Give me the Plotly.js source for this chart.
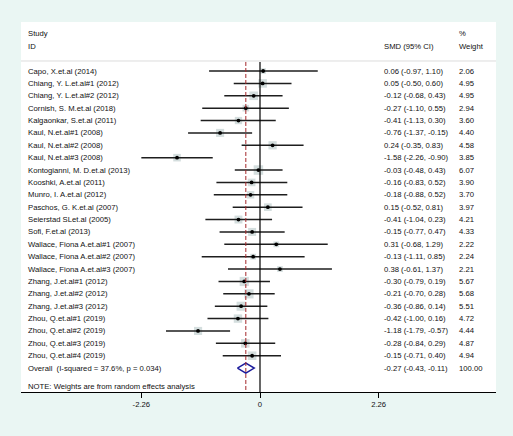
<!DOCTYPE html>
<html>
<head>
<meta charset="utf-8">
<script src="https://cdn.plot.ly/plotly-3.0.1.min.js"></script>
<style>html,body{margin:0;padding:0;background:#eaf6f3;}#chart{width:513px;height:436px;}</style>
</head>
<body>
<div id="chart"></div>
<script>
const studies = [
  "Capo, X.et.al (2014)",
  "Chiang, Y. L.et.al#1 (2012)",
  "Chiang, Y. L.et.al#2 (2012)",
  "Cornish, S. M.et.al (2018)",
  "Kalgaonkar, S.et.al (2011)",
  "Kaul, N.et.al#1 (2008)",
  "Kaul, N.et.al#2 (2008)",
  "Kaul, N.et.al#3 (2008)",
  "Kontogianni, M. D.et.al (2013)",
  "Kooshki, A.et.al (2011)",
  "Munro, I. A.et.al (2012)",
  "Paschos, G. K.et.al (2007)",
  "Seierstad SLet.al (2005)",
  "Sofi, F.et.al (2013)",
  "Wallace, Fiona A.et.al#1 (2007)",
  "Wallace, Fiona A.et.al#2 (2007)",
  "Wallace, Fiona A.et.al#3 (2007)",
  "Zhang, J.et.al#1 (2012)",
  "Zhang, J.et.al#2 (2012)",
  "Zhang, J.et.al#3 (2012)",
  "Zhou, Q.et.al#1 (2019)",
  "Zhou, Q.et.al#2 (2019)",
  "Zhou, Q.et.al#3 (2019)",
  "Zhou, Q.et.al#4 (2019)"
];
const smd   = [0.06, 0.05, -0.12, -0.27, -0.41, -0.76, 0.24, -1.58, -0.03, -0.16, -0.18, 0.15, -0.41, -0.15, 0.31, -0.13, 0.38, -0.30, -0.21, -0.36, -0.42, -1.18, -0.28, -0.15];
const lower = [-0.97, -0.50, -0.68, -1.10, -1.13, -1.37, -0.35, -2.26, -0.48, -0.83, -0.88, -0.52, -1.04, -0.77, -0.68, -1.11, -0.61, -0.79, -0.70, -0.86, -1.00, -1.79, -0.84, -0.71];
const upper = [1.10, 0.60, 0.43, 0.55, 0.30, -0.15, 0.83, -0.90, 0.43, 0.52, 0.52, 0.81, 0.23, 0.47, 1.29, 0.85, 1.37, 0.19, 0.28, 0.14, 0.16, -0.57, 0.29, 0.40];
const weights = [2.06, 4.95, 4.95, 2.94, 3.60, 4.40, 4.58, 3.85, 6.07, 3.90, 3.70, 3.97, 4.21, 4.33, 2.22, 2.24, 2.21, 5.67, 5.68, 5.51, 4.72, 4.44, 4.87, 4.94];
const overallLabel = "Overall  (I-squared = 37.6%, p = 0.034)";
const overallSmd = -0.27, overallLower = -0.43, overallUpper = -0.11, overallWeight = 100.00;
const tickVals = [-2.26, 0, 2.26];
const tickText = ["-2.26", "0", "2.26"];
const noteText = "NOTE: Weights are from random effects analysis";

const rows = studies.map((_, i) => i);
const overallRow = studies.length;
const FONT = "Liberation Sans, Arial, sans-serif";
const FS = 7.7;
const TXT = "#111111";

// CI lines
const ciX = [], ciY = [];
rows.forEach(i => { ciX.push(lower[i], upper[i], null); ciY.push(i, i, null); });

const maxW = Math.max(...weights);
const boxSizes = weights.map(w => 9.5 * Math.sqrt(w / maxW));

const dh = 0.4;
const traces = [
  {x: smd, y: rows, mode: "markers", type: "scatter", hoverinfo: "skip",
   marker: {symbol: "square", size: boxSizes, color: "#c2d0d0", line: {width: 0}}},
  {x: ciX, y: ciY, mode: "lines", type: "scatter", hoverinfo: "skip",
   line: {color: "#1e1e1e", width: 1.5}},
  {x: smd, y: rows, mode: "markers", type: "scatter", hoverinfo: "skip",
   marker: {symbol: "circle", size: 3.8, color: "#000000"}},
  {x: [overallLower, overallSmd, overallUpper, overallSmd, overallLower],
   y: [overallRow, overallRow - dh, overallRow, overallRow + dh, overallRow],
   mode: "lines", type: "scatter", hoverinfo: "skip",
   line: {color: "#1c1c9c", width: 1.5}}
];

const fmt = v => v.toFixed(2);
const ann = [];
function addText(text, xp, y) {
  ann.push({text: text, xref: "paper", yref: "y", x: xp, y: y, xanchor: "left", yanchor: "middle",
    showarrow: false, font: {family: FONT, size: FS, color: TXT}, borderpad: 0});
}
const xStudy = 0.0125, xCI = 0.762, xW = 0.92;
addText("Study", xStudy, -3.0);
addText("ID", xStudy, -1.95);
addText("SMD (95% CI)", xCI, -1.95);
addText("%", xW, -3.0);
addText("Weight", xW, -1.95);
rows.forEach(i => {
  addText(studies[i], xStudy, i);
  addText(fmt(smd[i]) + " (" + fmt(lower[i]) + ", " + fmt(upper[i]) + ")", xCI, i);
  addText(fmt(weights[i]), xW, i);
});
addText(overallLabel, xStudy, overallRow);
addText(fmt(overallSmd) + " (" + fmt(overallLower) + ", " + fmt(overallUpper) + ")", xCI, overallRow);
addText(fmt(overallWeight), xW, overallRow);
addText(noteText, xStudy, overallRow + 1.45);

const yBottom = 25.93, yTop = -3.96, ySep = -0.81;
const shapes = [
  {type: "line", xref: "paper", yref: "y", x0: 0, x1: 1, y0: ySep, y1: ySep, line: {color: "#dcdcdc", width: 1}},
  {type: "line", xref: "x", yref: "y", x0: 0, x1: 0, y0: ySep + 0.08, y1: yBottom, line: {color: "#000000", width: 1.2}},
  {type: "line", xref: "x", yref: "y", x0: overallSmd, x1: overallSmd, y0: ySep + 0.08, y1: yBottom, line: {color: "#a3262a", width: 1, dash: "4px,2px"}}
];

const layout = {
  width: 513, height: 436,
  margin: {l: 21, r: 17, t: 22, b: 44, pad: 0},
  paper_bgcolor: "#eaf6f3", plot_bgcolor: "#ffffff",
  showlegend: false,
  xaxis: {range: [-4.552, 4.495], tickvals: tickVals, ticktext: tickText, ticks: "outside", ticklen: 5,
    tickcolor: "#000", tickwidth: 1, showgrid: false, zeroline: false, showline: true, linecolor: "#000", linewidth: 1.2,
    tickfont: {family: FONT, size: FS, color: TXT}, fixedrange: true},
  yaxis: {range: [yBottom, yTop], showticklabels: false, showgrid: false, zeroline: false, showline: false, ticks: "", fixedrange: true},
  annotations: ann,
  shapes: shapes
};
Plotly.newPlot("chart", traces, layout, {displayModeBar: false, staticPlot: true});
</script>
</body>
</html>
